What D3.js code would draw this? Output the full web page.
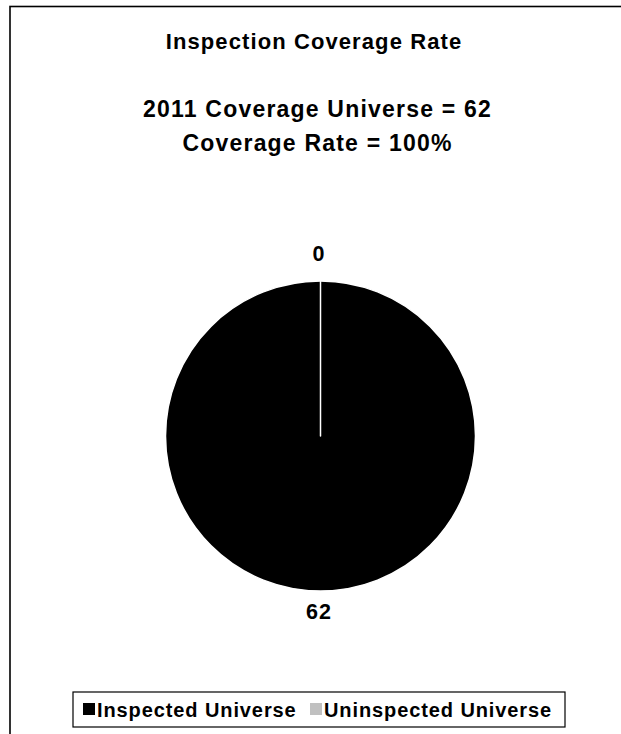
<!DOCTYPE html>
<html>
<head>
<meta charset="utf-8">
<script src="https://cdn.jsdelivr.net/npm/d3@7"></script>
<style>
  html, body { margin: 0; padding: 0; background: #fff; }
  svg { display: block; }
  text { font-family: "Liberation Sans", Arial, sans-serif; font-weight: bold; fill: #000; }
</style>
</head>
<body>
<svg id="chart" width="621" height="734"></svg>
<script>
// ---- data ----
const categories = ["Inspected Universe", "Uninspected Universe"];
const values = [62, 0];
const colors = ["#000000", "#c0c0c0"];
const titleLines = ["Inspection Coverage Rate"];
const subtitleLines = ["2011 Coverage Universe = 62", "Coverage Rate = 100%"];

const svg = d3.select("#chart");

// outer chart-area frame (extends past viewport right/bottom)
svg.append("rect")
  .attr("x", 10).attr("y", 6.5)
  .attr("width", 700).attr("height", 800)
  .attr("fill", "none").attr("stroke", "#000").attr("stroke-width", 1.6);

// title
svg.append("text")
  .attr("x", 314).attr("y", 49)
  .attr("text-anchor", "middle")
  .style("font-size", "22px").style("letter-spacing", "1.1px")
  .text(titleLines[0]);

// subtitle lines
subtitleLines.forEach((t, i) => {
  svg.append("text")
    .attr("x", 317.5).attr("y", 117 + i * 34)
    .attr("text-anchor", "middle")
    .style("font-size", "23px").style("letter-spacing", "1.2px")
    .text(t);
});

// pie
const pieCx = 320.5, pieCy = 436, R = 155;
const pie = d3.pie().sort(null).value(d => d.value);
const arcs = pie(categories.map((c, i) => ({ name: c, value: values[i], color: colors[i] })));
const arc = d3.arc().innerRadius(0).outerRadius(R);

const g = svg.append("g").attr("transform", `translate(${pieCx},${pieCy})`);
g.selectAll("path.slice")
  .data(arcs)
  .join("path")
  .attr("class", "slice")
  .attr("d", arc)
  .attr("fill", d => d.data.color)
  .attr("stroke", "#fff")
  .attr("stroke-width", 1.5)
  .attr("stroke-linejoin", "round");

g.selectAll("text.lbl")
  .data(arcs)
  .join("text")
  .attr("class", "lbl")
  .attr("transform", d => {
    const a = (d.startAngle + d.endAngle) / 2;
    const rr = R + 24;
    return `translate(${Math.sin(a) * rr - 1.5},${-Math.cos(a) * rr - 3.5})`;
  })
  .attr("text-anchor", "middle")
  .attr("dy", "0.36em")
  .style("font-size", "21.5px").style("letter-spacing", "1px")
  .text(d => d.data.value);

// legend
const lg = svg.append("g");
lg.append("rect")
  .attr("x", 73).attr("y", 692).attr("width", 492).attr("height", 35)
  .attr("fill", "#fff").attr("stroke", "#000").attr("stroke-width", 1.2);

const legendItems = [
  { x: 83, name: categories[0], color: colors[0] },
  { x: 310, name: categories[1], color: colors[1] }
];
legendItems.forEach(it => {
  lg.append("rect")
    .attr("x", it.x).attr("y", 703).attr("width", 12).attr("height", 12)
    .attr("fill", it.color);
  lg.append("text")
    .attr("x", it.x + 14).attr("y", 716.5)
    .style("font-size", "20px").style("letter-spacing", "0.9px")
    .text(it.name);
});
</script>
</body>
</html>
